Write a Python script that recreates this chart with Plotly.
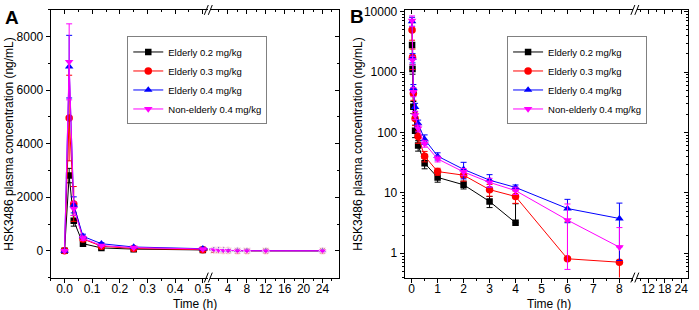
import plotly.graph_objects as go

# ---------------- data ----------------
time_h = [0, 0.0167, 0.0333, 0.0667, 0.1333, 0.25, 0.5, 1, 2, 3, 4, 6, 8, 12, 24]

series_names = ["Elderly 0.2 mg/kg", "Elderly 0.3 mg/kg", "Elderly 0.4 mg/kg", "Non-elderly 0.4 mg/kg"]

elderly_02_mean = [0, 2810, 1120, 265, 107, 61, 31, 18, 13.6, 7.2, 3.2, 0, 0, 0, 0]
elderly_02_sd = [0, 270, 200, 60, 25, 12, 6, 3, 2, 1.5, 3.4, 0, 0, 0, 0]

elderly_03_mean = [0, 4960, 1750, 440, 170, 86, 40.5, 22.5, 19.6, 11.3, 8.7, 0.81, 0.71, 0, 0]
elderly_03_sd = [0, 1600, 650, 100, 40, 20, 8, 3, 4, 2.5, 2, 2.5, 0.6, 0, 0]

elderly_04_mean = [0, 6880, 1715, 540, 263, 141, 77, 40.5, 24.5, 16.2, 12.3, 5.5, 3.76, 0, 0]
elderly_04_sd = [0, 1170, 300, 80, 40, 19, 14, 5.5, 7.5, 3.8, 1.2, 2.3, 3.0, 0, 0]

nonelderly_04_mean = [0, 7060, 1570, 470, 193, 117, 65, 36.5, 22.2, 14.9, 10.9, 3.54, 1.26, 0, 0]
nonelderly_04_sd = [0, 1420, 250, 80, 30, 15, 8, 4, 3, 2.5, 1.5, 3.0, 1.4, 0, 0]

A_xticks_right = [4, 8, 12, 16, 20, 24]
B_xticks_right = [12, 18, 24]
B_yticks = [1, 10, 100, 1000, 10000]
B_yticklabels = ["1", "10", "100", "1000", "10000"]

means = [elderly_02_mean, elderly_03_mean, elderly_04_mean, nonelderly_04_mean]
sds = [elderly_02_sd, elderly_03_sd, elderly_04_sd, nonelderly_04_sd]

# ---------------- style ----------------
colors = ["#000000", "#FF0000", "#0000FF", "#FF00FF"]
symbols = ["square", "circle", "triangle-up", "triangle-down"]
msizes = [6.5, 7.5, 7.5, 7.5]
FONT = "Liberation Sans, Arial, sans-serif"

W, H = 699, 310


def px(x):
    return x / W


def py(y):
    return 1 - y / H


y_dom = [py(277), py(5)]

fig = go.Figure()

split = time_h.index(0.5)

for i in range(4):
    c, sym, sz = colors[i], symbols[i], msizes[i]
    m, s = means[i], sds[i]
    common = dict(mode="lines+markers", line=dict(color=c, width=1), hoverinfo="skip")
    # Panel A, left segment
    fig.add_trace(go.Scatter(
        x=time_h, y=m, name=series_names[i], legend="legend",
        marker=dict(symbol=sym, size=sz, color=c),
        error_y=dict(type="data", array=s, color=c, thickness=1, width=3),
        xaxis="x", yaxis="y", **common))
    # Panel A, right segment
    rx = time_h[split:]
    ry = m[split:]
    rsz = [0] + [sz] * (len(rx) - 1)
    rerr = [None] + s[split + 1:]
    fig.add_trace(go.Scatter(
        x=rx, y=ry, showlegend=False,
        marker=dict(symbol=sym, size=rsz, color=c),
        error_y=dict(type="data", array=rerr, color=c, thickness=1, width=3),
        xaxis="x2", yaxis="y3", **common))
    # Panel B (log), left segment: non-positive values cannot be shown on a log axis
    bm = [v if v > 0 else None for v in m]
    bplus = [sd if v > 0 else None for v, sd in zip(m, s)]
    bminus = [(sd if sd < v else 0) if v > 0 else None for v, sd in zip(m, s)]
    fig.add_trace(go.Scatter(
        x=time_h, y=bm, name=series_names[i], legend="legend2",
        marker=dict(symbol=sym, size=sz, color=c),
        error_y=dict(type="data", array=bplus, arrayminus=bminus, symmetric=False,
                     color=c, thickness=1, width=3),
        xaxis="x5", yaxis="y2", **common))

# empty helper traces so every axis pair exists
for xa, ya in [("x3", "y"), ("x4", "y3"), ("x6", "y4"), ("x7", "y2"), ("x8", "y4")]:
    fig.add_trace(go.Scatter(x=[], y=[], xaxis=xa, yaxis=ya, showlegend=False, hoverinfo="skip"))

axis_common = dict(showline=True, linecolor="black", linewidth=1, showgrid=False, zeroline=False,
                   ticklen=4, tickwidth=1, tickcolor="black", ticklabeloverflow="allow",
                   tickfont=dict(family=FONT, size=12, color="black"))


def minor(ticks, **kw):
    d = dict(ticks=ticks, ticklen=2, tickwidth=1, tickcolor="black", showgrid=False)
    d.update(kw)
    return d


A_left_rng = [-0.05, 0.518]
A_right_rng = [0.15, 27.5]
B_left_rng = [-0.268, 8.536]
B_right_rng = [8, 26.5]
A_y_rng = [-1000, 9000]
B_y_rng = [-0.402, 4.028]

B_minor_vals = [k * 10 ** e for e in range(-1, 5) for k in range(2, 10)]
bottom_shift = dict(ticklabelstandoff=-4)

fig.update_layout(
    width=W, height=H, margin=dict(l=0, r=0, t=0, b=0),
    paper_bgcolor="white", plot_bgcolor="white",
    font=dict(family=FONT, size=12, color="black"),
    # Panel A axes
    xaxis=dict(domain=[px(51), px(209)], anchor="y", range=A_left_rng, dtick=0.1, tick0=0,
               tickformat=".1f", ticks="outside", minor=minor("outside", dtick=0.05, tick0=0),
               **bottom_shift, **axis_common),
    xaxis3=dict(overlaying="x", side="top", anchor="y", range=A_left_rng, dtick=0.1, tick0=0,
                ticks="inside", showticklabels=False, minor=minor("inside", dtick=0.05, tick0=0), **axis_common),
    xaxis2=dict(domain=[px(211), px(341)], anchor="y3", range=A_right_rng, tickmode="array",
                tickvals=A_xticks_right, ticks="outside", minor=minor("outside", dtick=2, tick0=0),
                **bottom_shift, **axis_common),
    xaxis4=dict(overlaying="x2", side="top", anchor="y3", range=A_right_rng, tickmode="array",
                tickvals=A_xticks_right, ticks="inside", showticklabels=False,
                minor=minor("inside", dtick=2, tick0=0), **axis_common),
    yaxis=dict(domain=y_dom, anchor="x", range=A_y_rng, dtick=2000, tick0=0, ticks="outside",
               minor=minor("outside", dtick=1000, tick0=0), **axis_common),
    yaxis3=dict(domain=y_dom, anchor="x2", side="right", range=A_y_rng, dtick=2000, tick0=0,
                ticks="inside", showticklabels=False, minor=minor("inside", dtick=1000, tick0=0), **axis_common),
    # Panel B axes
    xaxis5=dict(domain=[px(407), px(637)], anchor="y2", range=B_left_rng, dtick=1, tick0=0,
                ticks="outside", minor=minor("outside", dtick=0.5, tick0=0), **bottom_shift, **axis_common),
    xaxis7=dict(overlaying="x5", side="top", anchor="y2", range=B_left_rng, dtick=1, tick0=0,
                ticks="inside", showticklabels=False, minor=minor("inside", dtick=0.5, tick0=0), **axis_common),
    xaxis6=dict(domain=[px(641), px(692)], anchor="y4", range=B_right_rng, tickmode="array",
                tickvals=B_xticks_right, ticks="outside", minor=minor("outside", dtick=3, tick0=0),
                **bottom_shift, **axis_common),
    xaxis8=dict(overlaying="x6", side="top", anchor="y4", range=B_right_rng, tickmode="array",
                tickvals=B_xticks_right, ticks="inside", showticklabels=False,
                minor=minor("inside", dtick=3, tick0=0), **axis_common),
    yaxis2=dict(domain=y_dom, anchor="x5", type="log", range=B_y_rng, tickmode="array",
                tickvals=B_yticks, ticktext=B_yticklabels, ticks="outside",
                minor=minor("outside", tickmode="array", tickvals=B_minor_vals), **axis_common),
    yaxis4=dict(domain=y_dom, anchor="x6", side="right", type="log", range=B_y_rng, tickmode="array",
                tickvals=B_yticks, ticks="inside", showticklabels=False,
                minor=minor("inside", tickmode="array", tickvals=B_minor_vals), **axis_common),
    legend=dict(x=px(128), y=py(32), xanchor="left", yanchor="top", bordercolor="#808080", borderwidth=1,
                bgcolor="white", font=dict(family=FONT, size=9.5, color="black"), itemwidth=30,
                tracegroupgap=0),
    legend2=dict(x=px(510), y=py(32), xanchor="left", yanchor="top", bordercolor="#808080", borderwidth=1,
                 bgcolor="white", font=dict(family=FONT, size=9.5, color="black"), itemwidth=30,
                 tracegroupgap=0),
    showlegend=True,
)

# titles and panel letters
ann = [
    dict(text="<b>A</b>", x=px(3), y=py(13), xanchor="left", yanchor="middle", font=dict(size=19, family=FONT)),
    dict(text="<b>B</b>", x=px(350), y=py(12), xanchor="left", yanchor="middle", font=dict(size=19, family=FONT)),
    dict(text="Time (h)", x=px(196), y=py(303.5), xanchor="center", yanchor="middle", font=dict(size=12, family=FONT)),
    dict(text="Time (h)", x=px(552), y=py(303.5), xanchor="center", yanchor="middle", font=dict(size=12, family=FONT)),
    dict(text="HSK3486 plasma concentration (ng/mL)", x=px(9), y=py(141), textangle=-90,
         xanchor="center", yanchor="middle", font=dict(size=12, family=FONT)),
    dict(text="HSK3486 plasma concentration (ng/mL)", x=px(360), y=py(141), textangle=-90,
         xanchor="center", yanchor="middle", font=dict(size=12, family=FONT)),
]
for a in ann:
    a.update(xref="paper", yref="paper", showarrow=False)
fig.update_layout(annotations=ann)

# axis-break marks "//"
shapes = []
for bx in (210, 639):
    for by in (277, 5):
        for dx in (-2.5, 1.5):
            shapes.append(dict(type="line", xref="paper", yref="paper",
                               x0=px(bx + dx - 2), y0=py(by + 5), x1=px(bx + dx + 2), y1=py(by - 5),
                               line=dict(color="black", width=1)))
fig.update_layout(shapes=shapes)

fig.write_html("out.html", config={"displayModeBar": False},
               post_script="document.body.style.margin='0px';document.body.style.overflow='hidden';")
